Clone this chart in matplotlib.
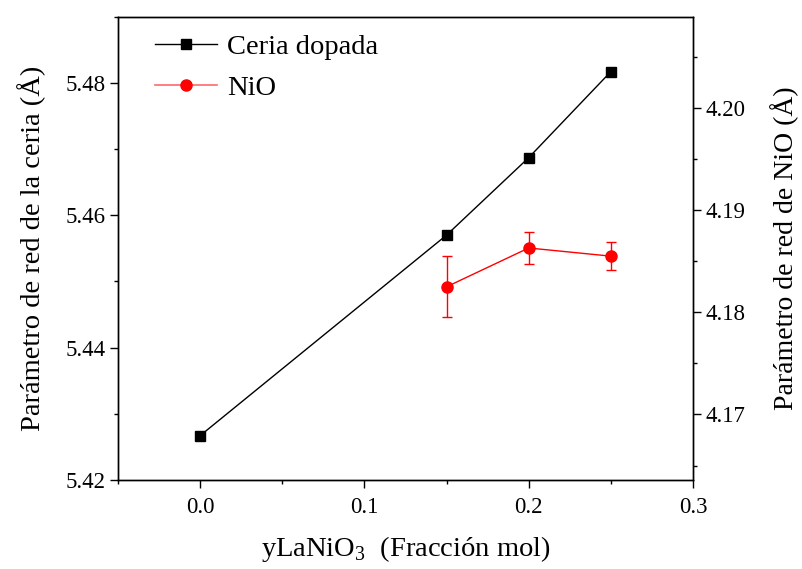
import matplotlib
matplotlib.use("Agg")
import matplotlib.pyplot as plt
from matplotlib.lines import Line2D
from matplotlib.ticker import MultipleLocator

plt.rcParams["font.family"] = ["Liberation Serif", "DejaVu Serif"]
plt.rcParams["mathtext.fontset"] = "custom"
plt.rcParams["mathtext.rm"] = "Liberation Serif"

# Lattice parameters vs. LaNiO3 mole fraction
x_ceria = [0.0, 0.15, 0.20, 0.25]
a_ceria = [5.4267, 5.4570, 5.4687, 5.4817]

x_nio = [0.15, 0.20, 0.25]
a_nio = [4.1825, 4.1863, 4.1855]
a_nio_err = [0.0030, 0.0016, 0.00135]

x_ticks = [0.0, 0.1, 0.2, 0.3]
left_ticks = [5.42, 5.44, 5.46, 5.48]
right_ticks = [4.17, 4.18, 4.19, 4.20]

fig = plt.figure(figsize=(8.02, 5.69), dpi=100)
ax = fig.add_axes([0.1471, 0.1564, 0.8641 - 0.1471, 0.9707 - 0.1564])
ax2 = ax.twinx()

ax.plot(x_ceria, a_ceria, color="black", lw=1.0, marker="s",
        markersize=7.2, markerfacecolor="black", markeredgecolor="black")
ax2.errorbar(x_nio, a_nio, yerr=a_nio_err, color="red", lw=1.0,
             marker="o", markersize=8, capsize=3.6, elinewidth=1.0,
             capthick=1.0)

ax.set_xlim(-0.05, 0.30)
ax.set_ylim(5.42, 5.490)
ax2.set_ylim(4.16358, 4.20895)

ax.set_xticks(x_ticks)
ax.set_xticklabels([f"{t:.1f}" for t in x_ticks])
ax.xaxis.set_minor_locator(MultipleLocator(0.05))
ax.set_yticks(left_ticks)
ax.set_yticklabels([f"{t:.2f}" for t in left_ticks])
ax.yaxis.set_minor_locator(MultipleLocator(0.01))
ax2.set_yticks(right_ticks)
ax2.set_yticklabels([f"{t:.2f}" for t in right_ticks])
ax2.yaxis.set_minor_locator(MultipleLocator(0.005))

for a in (ax, ax2):
    a.tick_params(which="major", direction="out", length=6, width=1.0,
                  labelsize=16.5, pad=3)
    a.tick_params(which="minor", direction="out", length=3, width=1.0)
    for s in a.spines.values():
        s.set_linewidth(1.0)
ax.tick_params(axis="x", which="both", top=False, pad=6)
ax.tick_params(axis="y", which="both", right=False)

ax.set_xlabel(r"yLaNiO$_\mathregular{3}$  (Fracción mol)", fontsize=20.5,
              labelpad=12)
ax.set_ylabel("Parámetro de red de la ceria (Å)", fontsize=20.5, labelpad=14)
ax2.set_ylabel("Parámetro de red de NiO (Å)", fontsize=20, labelpad=18)

handles = [
    Line2D([], [], color="black", lw=1.0, marker="s", markersize=7.2,
           markerfacecolor="black", markeredgecolor="black"),
    Line2D([], [], color="#ff6a6a", lw=1.2, marker="o", markersize=8,
           markerfacecolor="red", markeredgecolor="red"),
]
ax.legend(handles, ["Ceria dopada", "NiO"], loc="upper left",
          bbox_to_anchor=(0.019, 1.017), frameon=False, fontsize=20.5,
          handlelength=2.2, labelspacing=0.5, handletextpad=0.35)

fig.savefig("out.png", dpi=100)
